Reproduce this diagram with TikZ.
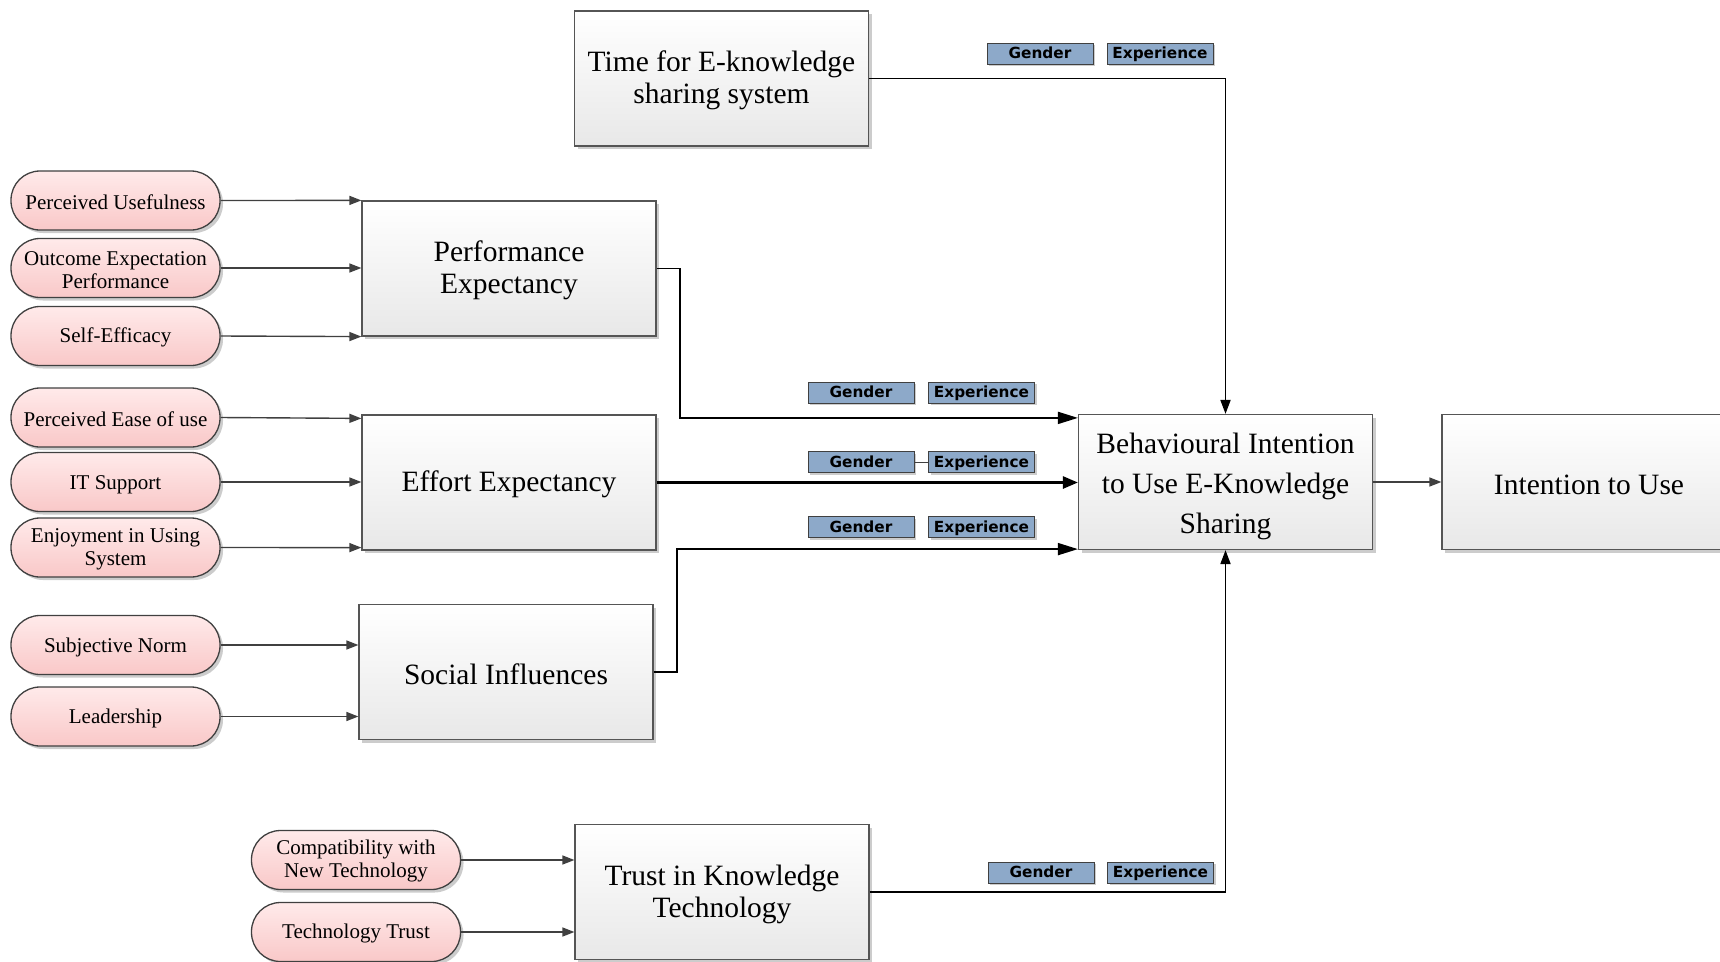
\documentclass[tikz,border=0pt]{standalone}
\usepackage{fontspec}
\setmainfont{Liberation Serif}
\newfontfamily\tagfont{DejaVu Sans}
\usetikzlibrary{arrows.meta,shadows}

\definecolor{edge}{HTML}{404040}
\definecolor{boxline}{HTML}{555555}
\definecolor{boxbot}{HTML}{E8E8E8}
\definecolor{pinktop}{HTML}{FFEAEA}
\definecolor{pinkbot}{HTML}{F9C8C8}
\definecolor{tagblue}{HTML}{8DA9C9}

\begin{document}
\begin{tikzpicture}[x=1pt,y=-1pt,
  softshadow/.style={drop shadow={shadow xshift=3pt,shadow yshift=-3pt,opacity=.2,fill=black}},
  % a zero-width strut beside the text block lowers it a little
  lowertext/.style={execute at begin node={\rule{0pt}{#1}}},
  box/.style={draw=boxline,line width=1.2pt,top color=white,bottom color=boxbot,
    minimum width=294pt,minimum height=135pt,inner sep=0pt,align=center,
    font=\fontsize{29.5}{32}\selectfont,softshadow,lowertext=25pt},
  twoline/.style={lowertext=57pt},
  oval/.style={draw=edge,line width=1.3pt,rounded corners=29pt,top color=pinktop,bottom color=pinkbot,
    minimum width=209pt,minimum height=59pt,inner sep=0pt,align=center,
    font=\fontsize{21}{23}\selectfont,softshadow,lowertext=18.5pt},
  twoovl/.style={lowertext=40.5pt},
  tag/.style={draw=edge,line width=1pt,fill=tagblue,minimum width=106pt,minimum height=21pt,
    inner sep=0pt,text height=12.5pt,text depth=2.5pt,
    font=\tagfont\bfseries\fontsize{15.3}{16}\selectfont,
    drop shadow={shadow xshift=2pt,shadow yshift=-2pt,opacity=.2,fill=black}},
  grayarrow/.style={draw=edge,line width=1.4pt,-{Triangle[length=12pt,width=9pt]}},
  blackarrow/.style={draw=black,line width=1.8pt,-{Triangle[length=20pt,width=12pt]}},
  thinblack/.style={draw=black,line width=1.8pt,-{Triangle[length=14pt,width=10pt]}}
]
\useasboundingbox (0,0) rectangle (1720,961);
\clip (0,0) rectangle (1720,961);

% construct boxes
\node[box,twoline] (tm) at (721.5,78.5) {Time for E-knowledge\\sharing system};
\node[box,twoline] (pe) at (509,268.5) {Performance\\Expectancy};
\node[box] (ee) at (509,482.5) {Effort Expectancy};
\node[box,lowertext=23pt] (si) at (506,672) {Social Influences};
\node[box,twoline] (tk) at (722,892) {Trust in Knowledge\\Technology};
\node[box,font=\fontsize{29.5}{40}\selectfont,lowertext=109pt] (bi) at (1225.5,482) {Behavioural Intention\\to Use E-Knowledge\\Sharing};
\node[box] (iu) at (1589,482) {Intention to Use};

% antecedent factors
\node[oval] (pu) at (115.5,200.5) {Perceived Usefulness};
\node[oval,twoovl] (oe) at (115.5,268) {Outcome Expectation\\Performance};
\node[oval] (se) at (115.5,336) {Self-Efficacy};
\node[oval] (pz) at (115.5,417.5) {Perceived Ease of use};
\node[oval] (its) at (115.5,482) {IT Support};
\node[oval,twoovl] (eu) at (115.5,547.5) {Enjoyment in Using\\System};
\node[oval] (sn) at (115.5,645) {Subjective Norm};
\node[oval] (ld) at (115.5,716.5) {Leadership};
\node[oval,twoovl] (cn) at (356,860) {Compatibility with\\New Technology};
\node[oval] (tt) at (356,932) {Technology Trust};

% moderators
\node[tag] (g0) at (1040,53.5) {Gender};
\node[tag] (x0) at (1160,53.5) {Experience};
\node[tag] (g1) at (861,392.5) {Gender};
\node[tag] (x1) at (981.5,392.5) {Experience};
\node[tag] (g2) at (861,462) {Gender};
\node[tag] (x2) at (981.5,462) {Experience};
\node[tag] (g3) at (861,527) {Gender};
\node[tag] (x3) at (981.5,527) {Experience};
\node[tag] (g4) at (1041,872.5) {Gender};
\node[tag] (x4) at (1160.5,872.5) {Experience};
\draw[edge,line width=1pt] (g2) -- (x2);

% factor links
\draw[grayarrow] (pu.east) -- (pe.north west);
\draw[grayarrow] (oe.east) -- (oe.east -| pe.west);
\draw[grayarrow] (se.east) -- (pe.south west);
\draw[grayarrow] (pz.east) -- ([yshift=-4pt]ee.north west);
\draw[grayarrow] (its.east) -- (its.east -| ee.west);
\draw[grayarrow] (eu.east) -- ([yshift=3pt]ee.south west);
\draw[grayarrow] (sn.east) -- (sn.east -| si.west);
\draw[grayarrow] (ld.east) -- (ld.east -| si.west);
\draw[grayarrow] (cn.east) -- (cn.east -| tk.west);
\draw[grayarrow] (tt.east) -- (tt.east -| tk.west);

% construct links
\draw[blackarrow] (pe.east) -- ++(23,0) |- ([yshift=-4pt]bi.north west);
\draw[blackarrow,line width=2.6pt,-{Triangle[length=15pt,width=12pt]}] (ee.east) -- (ee.east -| bi.west);
\draw[blackarrow] (si.east) -- ++(23,0) |- ([yshift=1pt]bi.south west);
\draw[thinblack] (tm.east) -| (bi.north);
\draw[thinblack] (tk.east) -| (bi.south);
\draw[grayarrow] (bi.east) -- (iu.west);
\end{tikzpicture}
\end{document}
